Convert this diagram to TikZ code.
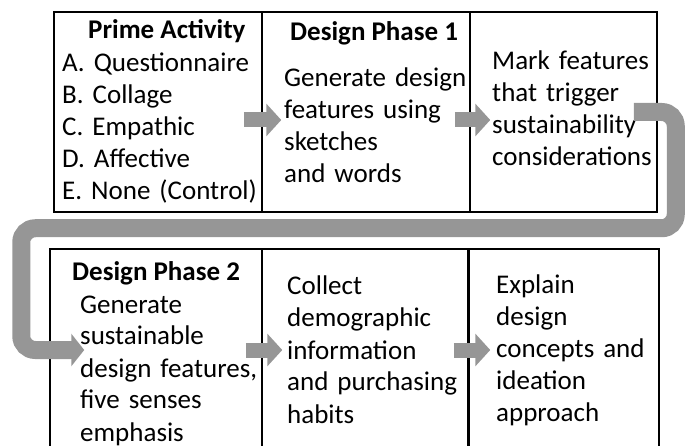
\documentclass[tikz,border=0pt]{standalone}
\usepackage{fontspec}
\setmainfont{Carlito}
\usepackage{tikz}
\usetikzlibrary{arrows.meta}
\definecolor{bandgray}{RGB}{150,150,150}
\tikzstyle{box} = [rectangle, draw=black, line width=1.5pt, inner sep=0pt]
\tikzstyle{head} = [font=\fontsize{27}{32}\selectfont\bfseries, inner sep=0pt, anchor=base west]
\tikzstyle{body} = [font=\fontsize{27}{32}\selectfont\frenchspacing, inner sep=0pt, text width=220pt, align=left, anchor=base west]
\tikzstyle{garrow} = [line width=15pt, draw=bandgray, -{Triangle[length=15pt,width=32pt]}]
\tikzstyle{uarrow} = [line width=18pt, draw=bandgray, rounded corners=14pt, -{Triangle[length=13pt,width=32pt]}]

\begin{document}
\begin{tikzpicture}[x=1pt, y=-1pt]
        \useasboundingbox (0,0) rectangle (688,446);
        % top row
        \node (prime) [box, minimum width=208pt, minimum height=200pt] at (158,112) {};
        \node (phaseone) [box, minimum width=208pt, minimum height=200pt] at (366,112) {};
        \node (mark) [box, minimum width=187pt, minimum height=200pt] at (563.5,112) {};
        % bottom row
        \node (phasetwo) [box, minimum width=212pt, minimum height=202pt] at (156,350) {};
        \node (collect) [box, minimum width=206pt, minimum height=202pt] at (365,350) {};
        \node (explain) [box, minimum width=190pt, minimum height=202pt] at (564,350) {};

        \node (primehead) [head] at (88,39) {Prime Activity};
        \node (primelist) [body] at (62,72) {A. Questionnaire\\B. Collage\\C. Empathic\\D. Affective\\E. None (Control)};
        \node (phaseonehead) [head] at (290,41) {Design Phase 1};
        \node (phaseonetext) [body] at (284,87) {Generate design\\features using\\sketches\\and words};
        \node (marktext) [body] at (492,70) {Mark features\\that trigger\\sustainability\\considerations};
        \node (phasetwohead) [head] at (72,281) {Design Phase 2};
        \node (phasetwotext) [body] at (80,313) {Generate\\sustainable\\design features,\\five senses\\emphasis};
        \node (collecttext) [body] at (287,295) {Collect\\demographic\\information\\and purchasing\\habits};
        \node (explaintext) [body] at (496,294) {Explain\\design\\concepts and\\ideation\\approach};

        \draw [garrow] ([shift={(-19,8)}]prime.east) -- ([shift={(20,8)}]phaseone.west);
        \draw [garrow] ([shift={(-16,8)}]phaseone.east) -- ([shift={(21,8)}]mark.west);
        \draw [uarrow] ([xshift=-24]mark.east) -- ++(42,0) |- ([shift={(-28,-20)}]phasetwo.north west) |- ([xshift=35]phasetwo.west);
        \draw [garrow] ([xshift=-17]phasetwo.east) -- ([xshift=21]collect.west);
        \draw [garrow] ([xshift=-15]collect.east) -- ([xshift=22]explain.west);
    \end{tikzpicture}
\end{document}
